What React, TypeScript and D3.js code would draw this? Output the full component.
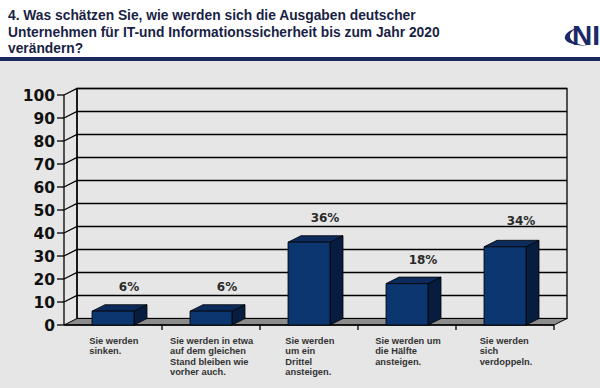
import { useEffect, useRef } from 'react';
import * as d3 from 'd3';

const titleLines = [
  '4. Was schätzen Sie, wie werden sich die Ausgaben deutscher',
  'Unternehmen für IT-und Informationssicherheit bis zum Jahr 2020',
  'verändern?',
];

const categories = ['sinken', 'gleich', 'drittel', 'haelfte', 'doppelt'];
const values = [6, 6, 36, 18, 34];
const categoryLabels = [
  ['Sie werden', 'sinken.'],
  ['Sie werden in etwa', 'auf dem gleichen', 'Stand bleiben wie', 'vorher auch.'],
  ['Sie werden', 'um ein', 'Drittel', 'ansteigen.'],
  ['Sie werden um', 'die Hälfte', 'ansteigen.'],
  ['Sie werden', 'sich', 'verdoppeln.'],
];
const yTicks = [0, 10, 20, 30, 40, 50, 60, 70, 80, 90, 100];

export default function App() {
  const svgRef = useRef<SVGSVGElement | null>(null);

  useEffect(() => {
    if (!svgRef.current) return;
    const width = 600;
    const height = 388;
    const dx = 13;
    const dy = 6.5;
    const barW = 42;

    const svg = d3.select(svgRef.current);
    svg.selectAll('*').remove();
    svg.attr('width', width).attr('height', height);

    const x0 = 64;
    const x1 = 554;
    const x = d3.scaleBand<string>().domain(categories).range([x0, x1]);
    const y = d3.scaleLinear().domain([0, 100]).range([325, 95]);

    // background + header
    svg.append('rect').attr('width', width).attr('height', height).attr('fill', '#e6e6e6');
    svg.append('rect').attr('width', width).attr('height', 57).attr('fill', '#ffffff');
    svg.append('rect').attr('y', 57).attr('width', width).attr('height', 4).attr('fill', '#1b2a5c');

    const title = svg.append('text')
      .attr('font-family', 'Liberation Sans, Arial, sans-serif')
      .attr('font-weight', 'bold')
      .attr('font-size', 13.8)
      .attr('fill', '#1a1f45');
    titleLines.forEach((t, i) => {
      title.append('tspan').attr('x', 8).attr('y', 20 + i * 16.5).text(t);
    });

    // logo
    const logo = svg.append('g').attr('fill', '#1b2a66');
    logo.append('path')
      .attr('d', 'M577,28 C562,32 556,45 588,46 C568,44 565,34 577,28 Z');
    logo.append('text')
      .attr('x', 572).attr('y', 45)
      .attr('font-family', 'Liberation Sans, Arial, sans-serif')
      .attr('font-weight', 'bold')
      .attr('font-size', 28)
      .text('NI');

    const g = svg.append('g');

    // back wall
    g.append('rect')
      .attr('x', x0 + dx).attr('y', y(100) - dy)
      .attr('width', x1 - x0).attr('height', y(0) - y(100))
      .attr('fill', '#e6e6e6').attr('stroke', '#000').attr('stroke-width', 1.3);

    // gridlines on side and back wall
    yTicks.filter((t) => t > 0).forEach((t) => {
      g.append('path')
        .attr('d', `M${x0},${y(t)} L${x0 + dx},${y(t) - dy} L${x1 + dx},${y(t) - dy}`)
        .attr('fill', 'none').attr('stroke', '#000').attr('stroke-width', 1.3);
    });

    // floor
    g.append('path')
      .attr('d', `M${x0},${y(0)} L${x1},${y(0)} L${x1 + dx},${y(0) - dy} L${x0 + dx},${y(0) - dy} Z`)
      .attr('fill', '#8c8c8c').attr('stroke', '#000').attr('stroke-width', 1);

    // y axis (front) and side wall edge
    g.append('line')
      .attr('x1', x0).attr('x2', x0).attr('y1', y(100)).attr('y2', y(0))
      .attr('stroke', '#000').attr('stroke-width', 1.3);
    g.append('line')
      .attr('x1', x0 + dx).attr('x2', x0 + dx).attr('y1', y(100) - dy).attr('y2', y(0) - dy)
      .attr('stroke', '#000').attr('stroke-width', 1.3);

    yTicks.forEach((t) => {
      g.append('line')
        .attr('x1', x0 - 7).attr('x2', x0).attr('y1', y(t)).attr('y2', y(t))
        .attr('stroke', '#000').attr('stroke-width', 1.3);
      g.append('text')
        .attr('x', x0 - 9).attr('y', y(t)).attr('dy', '0.36em')
        .attr('text-anchor', 'end')
        .attr('font-family', 'DejaVu Sans, sans-serif')
        .attr('font-weight', 'bold')
        .attr('font-size', 15.5)
        .attr('fill', '#111')
        .text(t);
    });

    // x axis
    g.append('line')
      .attr('x1', x0).attr('x2', x1).attr('y1', y(0)).attr('y2', y(0))
      .attr('stroke', '#000').attr('stroke-width', 1.3);
    categories.forEach((c) => {
      const xe = (x(c) as number) + x.bandwidth();
      g.append('line')
        .attr('x1', xe).attr('x2', xe).attr('y1', y(0)).attr('y2', y(0) + 5)
        .attr('stroke', '#000').attr('stroke-width', 1.3);
    });

    // bars
    categories.forEach((c, i) => {
      const v = values[i];
      const bx = (x(c) as number) + x.bandwidth() / 2 - barW / 2;
      const top = y(v);
      const base = y(0);
      const bar = g.append('g').attr('stroke', '#000').attr('stroke-width', 0.8).attr('stroke-linejoin', 'round');
      bar.append('path')
        .attr('d', `M${bx + barW},${top} L${bx + barW + dx},${top - dy} L${bx + barW + dx},${base - dy} L${bx + barW},${base} Z`)
        .attr('fill', '#061d40');
      bar.append('path')
        .attr('d', `M${bx},${top} L${bx + dx},${top - dy} L${bx + barW + dx},${top - dy} L${bx + barW},${top} Z`)
        .attr('fill', '#0c2b5c');
      bar.append('rect')
        .attr('x', bx).attr('y', top).attr('width', barW).attr('height', base - top)
        .attr('fill', '#0b3670');

      // keep the label clear of the back-wall gridlines
      let ly = top - 20;
      yTicks.forEach((t) => {
        const gy = y(t) - dy;
        if (ly > gy - 2 && ly < gy + 10) ly = gy - 2;
      });
      g.append('text')
        .attr('x', bx + barW / 2 + 16).attr('y', ly)
        .attr('text-anchor', 'middle')
        .attr('font-family', 'DejaVu Sans, sans-serif')
        .attr('font-weight', 'bold')
        .attr('font-size', 12)
        .attr('fill', '#2a2a2a')
        .text(`${v}%`);
    });

    // category labels (left aligned block centred under band)
    categories.forEach((c, i) => {
      const lbl = g.append('text')
        .attr('font-family', 'Liberation Sans, Arial, sans-serif')
        .attr('font-weight', 'bold')
        .attr('font-size', 9.3)
        .attr('fill', '#333');
      categoryLabels[i].forEach((line, j) => {
        lbl.append('tspan').attr('x', 0).attr('y', 344 + j * 10.3).text(line);
      });
      const w = (lbl.node() as SVGTextElement).getBBox().width;
      const cx = (x(c) as number) + x.bandwidth() / 2 + 1;
      lbl.attr('transform', `translate(${cx - w / 2},0)`);
    });
  }, []);

  return (
    <div style={{ position: 'absolute', left: 0, top: 0 }}>
      <svg ref={svgRef} style={{ display: 'block' }}></svg>
    </div>
  );
}
